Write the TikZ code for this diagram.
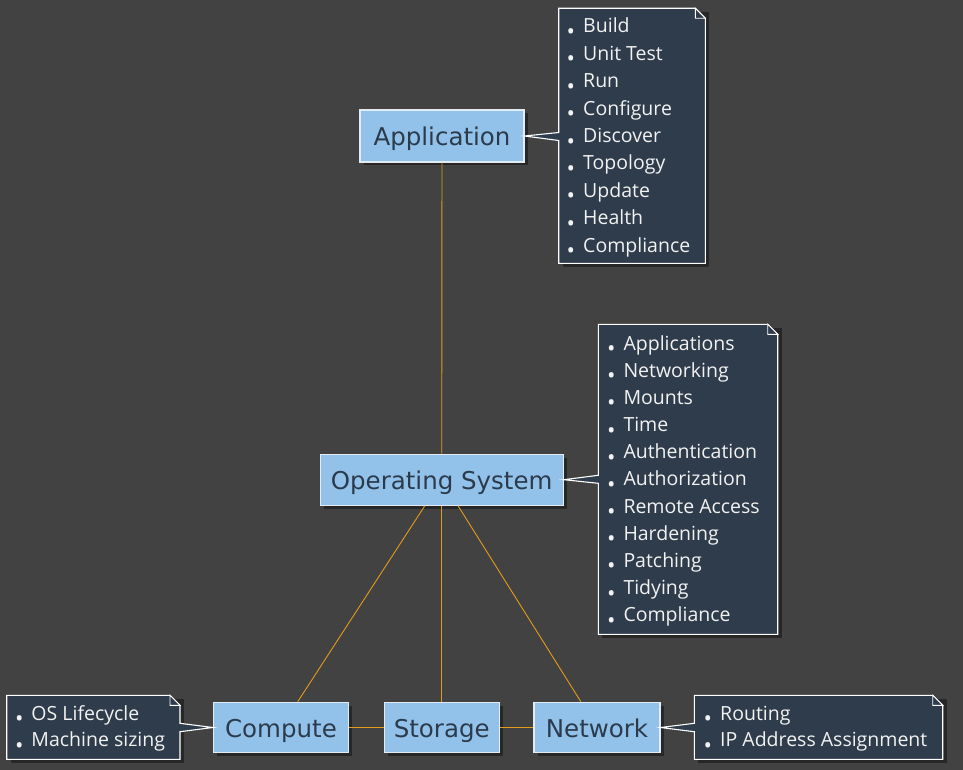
\documentclass[tikz,border=0pt]{standalone}
\usepackage{fontspec}
\setmainfont{DejaVu Sans}
\newfontfamily\notefont{Open Sans}
\newfontfamily\boxfont{DejaVu Sans}
\usetikzlibrary{shadows}
\definecolor{bgc}{HTML}{424242}
\definecolor{notec}{HTML}{2E3C4B}
\definecolor{boxc}{HTML}{92C2EA}
\definecolor{boxtext}{HTML}{2B3B4C}
\definecolor{linec}{HTML}{E39B1B}
\definecolor{edgec}{HTML}{E4ECF3}
\newcommand\nbul{\makebox[16pt][l]{\hspace*{-0.5pt}\raisebox{-6.6pt}{\scalebox{1.15}{\textbullet}}}}
\tikzset{
  box/.style={draw=edgec, line width=1.3pt, fill=boxc, text=boxtext,
    font=\boxfont\fontsize{24.5}{30}\selectfont, text height=19.5pt, text depth=0pt,
    inner sep=0pt, drop shadow={shadow xshift=3.5pt, shadow yshift=-3.5pt, fill=black, opacity=0.4}},
  conn/.style={draw=linec, line width=0.9pt},
  notebody/.style={draw=white, line width=1.1pt, fill=notec, line join=miter},
  notefold/.style={draw=white, line width=0.9pt, fill=notec},
  noteshadow/.style={fill=black, opacity=0.4},
  notetext/.style={anchor=base west, inner sep=0pt, text=white!95!black,
    font=\notefont\fontsize{19.5}{24}\selectfont}
}
\begin{document}
\begin{tikzpicture}[x=1pt, y=-1pt]
\fill[bgc] (0,0) rectangle (963,770);
\useasboundingbox (0,0) rectangle (963,770);

% main nodes
\node[box, minimum width=164, minimum height=52] (app) at (442,136) {Application};
\node[box, minimum width=243, minimum height=51] (os) at (441.7,479.7) {Operating System};
\node[box, minimum width=135, minimum height=50.5] (comp) at (281,727.5) {Compute};
\node[box, minimum width=115, minimum height=50.5] (stor) at (441.7,727.5) {Storage};
\node[box, minimum width=126, minimum height=50.5] (net) at (597,727.5) {Network};

% connectors
\draw[conn] (app) -- (os);
\draw[conn] (os) -- (comp);
\draw[conn] (os) -- (stor);
\draw[conn] (os) -- (net);
\draw[conn] (comp) -- (stor);
\draw[conn] (stor) -- (net);

% application note
\fill[noteshadow] (562.7,12.3) rectangle (709.3,267.3);
\draw[notebody] (558.7,8.3) -- (695.3,8.3) -- (705.3,18.3) -- (705.3,263.3) -- (558.7,263.3)
  -- (558.7,140.5) -- (app.east) -- (558.7,132.5) -- cycle;
\draw[notefold] (695.3,8.3) -- (695.3,18.3) -- (705.3,18.3) -- cycle;
\foreach \t [count=\i] in {Build, Unit Test, Run, Configure, Discover, Topology, Update, Health, Compliance}
  \node[notetext] (appn\i) at (567, {33+27.4*(\i-1)}) {\nbul\t};

% operating system note
\fill[noteshadow] (602.3,328.3) rectangle (781.7,638.3);
\draw[notebody] (598.3,324.3) -- (767.7,324.3) -- (777.7,334.3) -- (777.7,634.3) -- (598.3,634.3)
  -- (598.3,483.3) -- (os.east) -- (598.3,475.3) -- cycle;
\draw[notefold] (767.7,324.3) -- (767.7,334.3) -- (777.7,334.3) -- cycle;
\foreach \t [count=\i] in {Applications, Networking, Mounts, Time, Authentication, Authorization, Remote Access, Hardening, Patching, Tidying, Compliance}
  \node[notetext] (osn\i) at (607.3, {350+27.17*(\i-1)}) {\nbul\t};

% compute note
\fill[noteshadow] (10.7,699.3) rectangle (184,763.3);
\draw[notebody] (6.7,695.3) -- (170,695.3) -- (180,705.3) -- (180,723.3) -- (comp.west)
  -- (180,731.7) -- (180,759.3) -- (6.7,759.3) -- cycle;
\draw[notefold] (170,695.3) -- (170,705.3) -- (180,705.3) -- cycle;
\foreach \t [count=\i] in {OS Lifecycle, Machine sizing}
  \node[notetext] (compn\i) at (15.3, {720+26.7*(\i-1)}) {\nbul\t};

% network note
\fill[noteshadow] (698.3,699.3) rectangle (946.7,763.3);
\draw[notebody] (694.3,695.3) -- (932.7,695.3) -- (942.7,705.3) -- (942.7,759.3) -- (694.3,759.3)
  -- (694.3,731.7) -- (net.east) -- (694.3,723.3) -- cycle;
\draw[notefold] (932.7,695.3) -- (932.7,705.3) -- (942.7,705.3) -- cycle;
\foreach \t [count=\i] in {Routing, IP Address Assignment}
  \node[notetext] (netn\i) at (704, {720+26.7*(\i-1)}) {\nbul\t};
\end{tikzpicture}
\end{document}
